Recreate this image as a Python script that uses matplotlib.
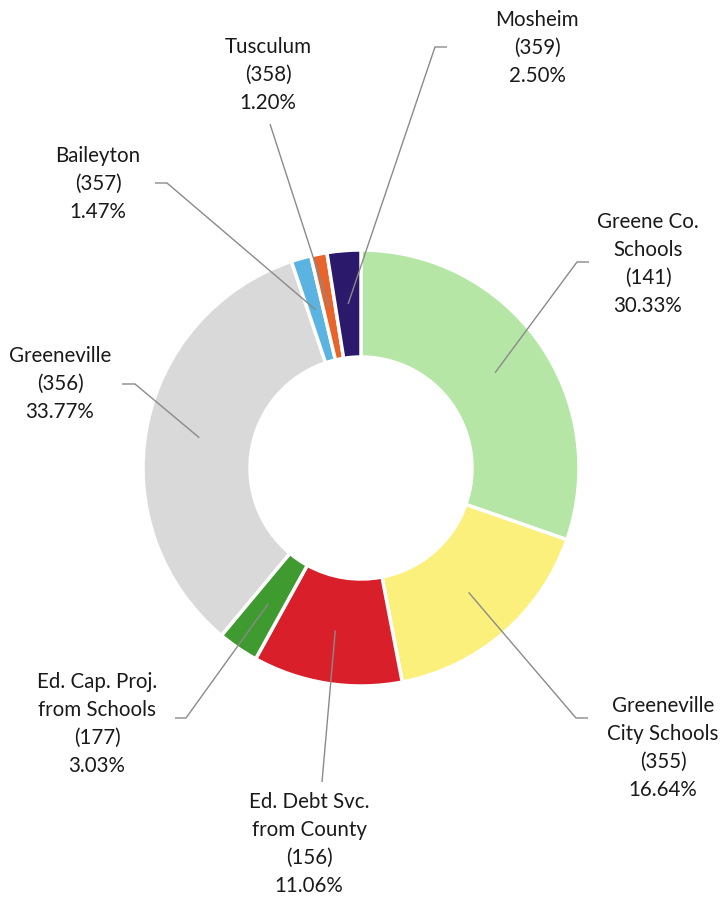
import matplotlib
matplotlib.use("Agg")
import matplotlib.pyplot as plt
import numpy as np

names = ["Greene Co.\nSchools", "Greeneville\nCity Schools", "Ed. Debt Svc.\nfrom County",
         "Ed. Cap. Proj.\nfrom Schools", "Greeneville", "Baileyton", "Tusculum", "Mosheim"]
codes = ["141", "355", "156", "177", "356", "357", "358", "359"]
shares = [30.33, 16.64, 11.06, 3.03, 33.77, 1.47, 1.20, 2.50]
colors = ["#b5e6a5", "#fcf07c", "#d81f2a", "#3f9a30", "#d9d9d9", "#5bb3e2", "#e8642b", "#2b1a6c"]

W, H = 726, 901
fig = plt.figure(figsize=(W / 100, H / 100), dpi=100)
ax = fig.add_axes([0, 0, 1, 1])

def Y(y):
    return H - y

cx, cy, R, ring = 361, 468, 218, 107
wedges, _ = ax.pie(shares, colors=colors, startangle=90, counterclock=False,
                   center=(cx, Y(cy)), radius=R,
                   wedgeprops=dict(width=ring, edgecolor="white", linewidth=2.5))
ax.set_xlim(0, W)
ax.set_ylim(0, H)
ax.set_aspect("equal")
ax.axis("off")

# label layout (pixel positions): text centre, elbow point, elbow end
label_pos = [(648, 264), (663, 748), (309, 844), (97, 724), (60, 384), (98, 184), (268, 75), (537, 48)]
elbows = [[(577, 262), (589, 262)],
          [(576, 718), (588, 718)],
          [(322, 782)],
          [(186, 718), (175, 718)],
          [(135, 384), (122, 384)],
          [(167, 183), (155, 183)],
          [(270, 124)],
          [(435, 47), (447, 47)]]

rmid = R - ring / 2
for w, n, c, s, lp, el in zip(wedges, names, codes, shares, label_pos, elbows):
    ang = np.deg2rad((w.theta1 + w.theta2) / 2)
    ax_ = cx + rmid * np.cos(ang)
    ay_ = Y(cy) + rmid * np.sin(ang)
    xs = [ax_] + [p[0] for p in el]
    ys = [ay_] + [Y(p[1]) for p in el]
    ax.plot(xs, ys, color="#8a8a8a", lw=1.0, solid_capstyle="butt")
    ax.text(lp[0], Y(lp[1]), f"{n}\n({c})\n{s:.2f}%", ha="center", va="center",
            fontsize=14.8, family=["Lato", "DejaVu Sans"], color="#1a1a1a",
            linespacing=1.52)

fig.savefig("out.png", dpi=100)
